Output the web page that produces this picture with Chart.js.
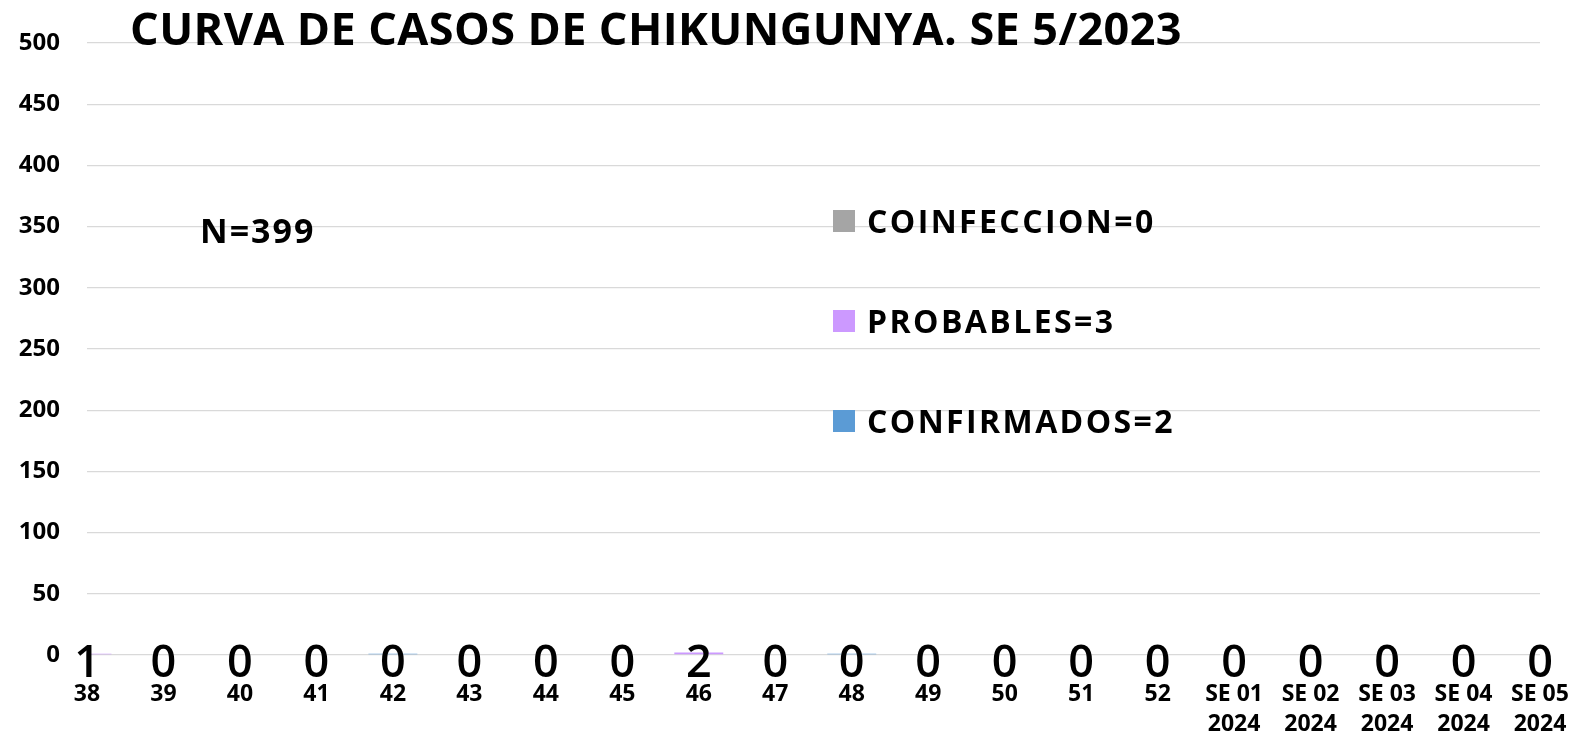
<!DOCTYPE html>
<html>
<head>
<meta charset="utf-8">
<script src="https://cdn.jsdelivr.net/npm/chart.js@4.4.0/dist/chart.umd.min.js"></script>
<style>
  body { margin: 0; background: #fff; }
  canvas { display: block; }
</style>
</head>
<body>
<canvas id="curvaChart" width="1580" height="735"></canvas>
<script>
// Semanas epidemiologicas
const semanas = ['38', '39', '40', '41', '42', '43', '44', '45', '46', '47', '48', '49', '50', '51', '52',
    ['SE 01', '2024'], ['SE 02', '2024'], ['SE 03', '2024'], ['SE 04', '2024'], ['SE 05', '2024']];

const confirmados = [0, 0, 0, 0, 1, 0, 0, 0, 0, 0, 1, 0, 0, 0, 0, 0, 0, 0, 0, 0];
const probables   = [1, 0, 0, 0, 0, 0, 0, 0, 2, 0, 0, 0, 0, 0, 0, 0, 0, 0, 0, 0];
const coinfeccion = [0, 0, 0, 0, 0, 0, 0, 0, 0, 0, 0, 0, 0, 0, 0, 0, 0, 0, 0, 0];

const titulo = 'CURVA DE CASOS DE CHIKUNGUNYA. SE 5/2023';
const totalN = 'N=399';
const FONT = '"Open Sans", "Noto Sans", sans-serif';

function suma(arr) { return arr.reduce((a, b) => a + b, 0); }

// titulo, N y leyenda dibujados encima del area
const extras = {
    id: 'extras',
    afterDraw(chart) {
        const ctx = chart.ctx;
        ctx.save();
        ctx.fillStyle = '#000';
        ctx.textBaseline = 'alphabetic';

        ctx.font = 'bold 45px ' + FONT;
        ctx.letterSpacing = '0.4px';
        ctx.textAlign = 'center';
        ctx.fillText(titulo, 656, 45);

        ctx.font = 'bold 34px ' + FONT;
        ctx.letterSpacing = '2px';
        ctx.textAlign = 'left';
        ctx.fillText(totalN, 200, 243);

        // leyenda en orden inverso (como Excel)
        const ds = chart.data.datasets.slice().reverse();
        ctx.font = 'bold 32px ' + FONT;
        ctx.letterSpacing = '2.4px';
        ds.forEach((d, i) => {
            const yc = 221 + i * 100;
            ctx.fillStyle = d.backgroundColor;
            ctx.fillRect(833, yc - 11, 22, 22);
            ctx.fillStyle = '#000';
            ctx.fillText(d.label + '=' + suma(d.data), 867, yc + 12);
        });

        // etiquetas de datos de probables
        const idx = chart.data.datasets.findIndex(d => d.label === 'PROBABLES');
        const meta = chart.getDatasetMeta(idx);
        ctx.font = '600 45px ' + FONT;
        ctx.letterSpacing = '0px';
        ctx.textAlign = 'center';
        ctx.textBaseline = 'middle';
        meta.data.forEach((bar, i) => {
            ctx.fillText(String(probables[i]), bar.x, chart.scales.y.getPixelForValue(0) + 9);
        });
        ctx.restore();
    }
};

const ctx = document.getElementById('curvaChart').getContext('2d');
const chart = new Chart(ctx, {
    type: 'bar',
    data: {
        labels: semanas,
        datasets: [
            { label: 'CONFIRMADOS', data: confirmados, backgroundColor: '#5b9bd5' },
            { label: 'PROBABLES', data: probables, backgroundColor: '#cc99ff' },
            { label: 'COINFECCION', data: coinfeccion, backgroundColor: '#a5a5a5' }
        ]
    },
    options: {
        responsive: false,
        animation: false,
        layout: { padding: { top: 43, right: 40, left: 0, bottom: 0 } },
        datasets: { bar: { categoryPercentage: 1, barPercentage: 0.64 } },
        plugins: {
            legend: { display: false },
            title: { display: false },
            tooltip: { enabled: false }
        },
        scales: {
            x: {
                stacked: true,
                offset: false,
                grid: { display: true, color: 'rgba(0,0,0,0)', drawOnChartArea: false, drawTicks: true, tickLength: 25 },
                border: { display: false },
                ticks: {
                    color: '#000',
                    padding: 0,
                    maxRotation: 0,
                    autoSkip: false,
                    font: { family: FONT, size: 23, weight: 'bold', lineHeight: 1.3 }
                },
                afterFit(scale) { scale.height = 80; }
            },
            y: {
                stacked: true,
                min: 0,
                max: 500,
                grid: { color: '#d9d9d9', lineWidth: 1.3, drawTicks: false },
                border: { display: false },
                ticks: {
                    stepSize: 50,
                    color: '#000',
                    padding: 27,
                    font: { family: FONT, size: 24, weight: 'bold' }
                },
                afterFit(scale) { scale.width = 87; }
            }
        }
    },
    plugins: [extras]
});
</script>
</body>
</html>
